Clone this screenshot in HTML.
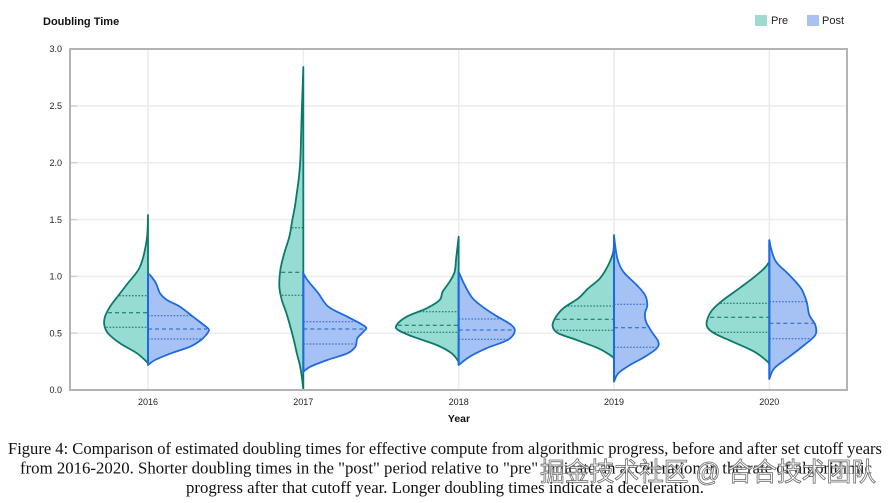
<!DOCTYPE html>
<html>
<head>
<meta charset="utf-8">
<style>
html,body{margin:0;padding:0;background:#fff;}
svg{display:block;}
</style>
</head>
<body>
<svg id="c" width="892" height="503" viewBox="0 0 892 503" xmlns="http://www.w3.org/2000/svg">
  <rect x="0" y="0" width="892" height="503" fill="#fff"/>
  <!-- grid -->
  <g stroke="#ececec" stroke-width="1.5">
    <line x1="71" y1="333.2" x2="846" y2="333.2"/>
    <line x1="71" y1="276.4" x2="846" y2="276.4"/>
    <line x1="71" y1="219.6" x2="846" y2="219.6"/>
    <line x1="71" y1="162.7" x2="846" y2="162.7"/>
    <line x1="71" y1="105.9" x2="846" y2="105.9"/>
    <line x1="148" y1="50" x2="148" y2="389"/>
    <line x1="303.3" y1="50" x2="303.3" y2="389"/>
    <line x1="458.7" y1="50" x2="458.7" y2="389"/>
    <line x1="614" y1="50" x2="614" y2="389"/>
    <line x1="769.3" y1="50" x2="769.3" y2="389"/>
  </g>
  <g stroke="#cfcfcf" stroke-width="1.5">
    <line x1="71" y1="333.2" x2="77" y2="333.2"/>
    <line x1="71" y1="276.4" x2="77" y2="276.4"/>
    <line x1="71" y1="219.6" x2="77" y2="219.6"/>
    <line x1="71" y1="162.7" x2="77" y2="162.7"/>
    <line x1="71" y1="105.9" x2="77" y2="105.9"/>
  </g>
  <g id="violins"></g>
  <!-- frame -->
  <rect x="70" y="49" width="777" height="341" fill="none" stroke="#b3b3b3" stroke-width="2"/>
  <!-- y tick labels -->
  <g font-family="Liberation Sans, Arial, sans-serif" font-size="9" fill="#222" text-anchor="end">
    <text x="62" y="393.2">0.0</text>
    <text x="62" y="336.4">0.5</text>
    <text x="62" y="279.6">1.0</text>
    <text x="62" y="222.8">1.5</text>
    <text x="62" y="165.9">2.0</text>
    <text x="62" y="109.1">2.5</text>
    <text x="62" y="52.2">3.0</text>
  </g>
  <!-- x tick labels -->
  <g font-family="Liberation Sans, Arial, sans-serif" font-size="9" fill="#222" text-anchor="middle">
    <text x="148" y="405">2016</text>
    <text x="303.3" y="405">2017</text>
    <text x="458.7" y="405">2018</text>
    <text x="614" y="405">2019</text>
    <text x="769.3" y="405">2020</text>
  </g>
  <text x="459" y="422" font-family="Liberation Sans, Arial, sans-serif" font-size="10.5" font-weight="bold" fill="#111" text-anchor="middle">Year</text>
  <!-- title -->
  <text x="43" y="25" font-family="Liberation Sans, Arial, sans-serif" font-size="11" font-weight="bold" fill="#111">Doubling Time</text>
  <!-- legend -->
  <rect x="755" y="15" width="12" height="11" fill="#9ddbd2"/>
  <text x="771" y="24" font-family="Liberation Sans, Arial, sans-serif" font-size="11" fill="#222">Pre</text>
  <rect x="807" y="15" width="12" height="11" fill="#a8c3f1"/>
  <text x="822" y="24" font-family="Liberation Sans, Arial, sans-serif" font-size="11" fill="#222">Post</text>
  <!-- caption -->
  <g font-family="Liberation Serif, Times New Roman, serif" font-size="16.5" fill="#111">
    <text x="8" y="454" textLength="874" lengthAdjust="spacingAndGlyphs">Figure 4: Comparison of estimated doubling times for effective compute from algorithmic progress, before and after set cutoff years</text>
    <text x="20" y="473.5" textLength="852" lengthAdjust="spacingAndGlyphs">from 2016-2020. Shorter doubling times in the "post" period relative to "pre" indicate an acceleration in the rate of algorithmic</text>
    <text x="186" y="493" textLength="518" lengthAdjust="spacingAndGlyphs">progress after that cutoff year. Longer doubling times indicate a deceleration.</text>
  </g>
  <!-- watermark -->
  <text x="540" y="481" textLength="336" lengthAdjust="spacingAndGlyphs" font-family="Liberation Sans, Noto Sans CJK SC, sans-serif" font-size="26" fill="#ffffff" fill-opacity="0.7" stroke="#6a6a6a" stroke-width="0.8">掘金技术社区 @ 合合技术团队</text>
</svg>
<script>
(function(){
  var NS="http://www.w3.org/2000/svg";
  var g=document.getElementById("violins");
  var data=[
    {pre:[[215,0],[240,1.3],[266.7,8],[283,20],[296,30],[306.7,38],[316.7,43],[325,43.7],[333.3,40],[343.3,28],[353.3,11],[363,0]],
     pq:[[295.7,0],[312.7,1],[327.3,0]],
     post:[[274,0],[275,2],[283.3,8],[293.3,12],[300,19],[306.7,32],[316.7,45],[326.7,58],[330,61],[335,58],[340,53],[346.7,42],[353.3,23],[360,7],[365,0]],
     oq:[[315.7,0],[329,1],[339,0]]},
    {pre:[[67,0],[90,0.8],[110,1.5],[135,2.2],[160,3],[178,4.5],[193,6.5],[207,8.5],[220,11],[236.7,14],[253,19],[270,23],[286.7,24],[300,21.5],[313,17],[326.7,13],[340,9.5],[353.3,6.5],[365,3.5],[376.7,1.5],[390,0]],
     pq:[[227.7,0],[272.3,1],[295.3,0]],
     post:[[273.3,0],[280,4],[293.3,15],[306.7,25],[316.7,44],[326.7,62],[331.7,60],[338.3,54],[346.7,52],[353.3,44],[360,24],[366.7,7],[371.7,0]],
     oq:[[321.7,0],[329,1],[344,0]]},
    {pre:[[236.7,0],[258.3,2.5],[271.7,4],[281.7,9],[291.7,16],[300,19],[308.3,32],[316.7,52],[325,62],[330,60.5],[336.7,45.7],[345,22],[353.3,7],[361.7,0]],
     pq:[[311.7,0],[325.3,1],[332.3,0]],
     post:[[271.7,0],[285,6],[298.3,14],[308.3,26],[316.7,39],[325,52.7],[331.7,56],[340,49],[348.3,27.7],[356.7,11],[365,0]],
     oq:[[319,0],[330,1],[339.3,0]]},
    {pre:[[235,0],[251.7,0.7],[265,5.7],[278.3,14],[288.3,25.7],[298.3,35.7],[308.3,50.7],[318.3,59],[326.7,61.3],[333.3,55.7],[340,37.3],[348.3,15.7],[355,4],[358.3,0]],
     pq:[[306,0],[319.3,1],[330.3,0]],
     post:[[236,0],[258.3,3.3],[271.7,9.3],[285,22.7],[295,31],[305,33.3],[313.3,31],[321.7,32],[331.7,37.7],[341.7,44.3],[348.3,42.7],[356.7,31],[365,16],[373.3,4.3],[381.7,0]],
     oq:[[304.3,0],[327.7,1],[347.3,0]]},
    {pre:[[261.7,0],[268.3,5],[278.3,16.7],[288.3,30],[301.7,48.3],[311.7,58.3],[325,62.7],[333.3,55],[341.7,36.7],[351.7,15],[361.7,1.7],[365,0]],
     pq:[[303.3,0],[317.3,1],[332.3,0]],
     post:[[240,0],[248.3,1.7],[261.7,6.7],[275,20],[288.3,31.7],[301.7,37.3],[315,40],[325,46],[335,46],[345,35],[356.7,20],[368.3,5],[379,0]],
     oq:[[301.7,0],[323.3,1],[338.7,0]]}
  ];
  function path(pts,cx,dir){
    var P=pts.map(function(p){return [cx+dir*p[1],p[0]];});
    var d="M"+P[0][0].toFixed(2)+","+P[0][1].toFixed(2);
    for(var i=0;i<P.length-1;i++){
      var p0=P[Math.max(i-1,0)],p1=P[i],p2=P[i+1],p3=P[Math.min(i+2,P.length-1)];
      var c1x=p1[0]+(p2[0]-p0[0])/6,c1y=p1[1]+(p2[1]-p0[1])/6;
      var c2x=p2[0]-(p3[0]-p1[0])/6,c2y=p2[1]-(p3[1]-p1[1])/6;
      d+=" C"+c1x.toFixed(2)+","+c1y.toFixed(2)+" "+c2x.toFixed(2)+","+c2y.toFixed(2)+" "+p2[0].toFixed(2)+","+p2[1].toFixed(2);
    }
    d+=" Z";
    return d;
  }
  function widthAt(pts,y){
    for(var i=0;i<pts.length-1;i++){
      if(y>=pts[i][0]&&y<=pts[i+1][0]){
        var t=(y-pts[i][0])/(pts[i+1][0]-pts[i][0]);
        return pts[i][1]+t*(pts[i+1][1]-pts[i][1]);
      }
    }
    return 0;
  }
  function el(name,attrs){
    var e=document.createElementNS(NS,name);
    for(var k in attrs)e.setAttribute(k,attrs[k]);
    g.appendChild(e);return e;
  }
  data.forEach(function(v,i){
    var cx=148+155.33*i;
    el("path",{d:path(v.pre,cx,-1),fill:"#96dcd2",stroke:"#0b7a6a","stroke-width":"1.8","stroke-linejoin":"round"});
    v.pq.forEach(function(q){
      var w=widthAt(v.pre,q[0]);
      el("line",{x1:cx-w+1,y1:q[0],x2:cx,y2:q[0],stroke:"#0b6b5e","stroke-width":"1","stroke-dasharray":q[1]?"4,3":"1.6,1.6"});
    });
    el("path",{d:path(v.post,cx,1),fill:"#a6c2f4",stroke:"#1f6ae0","stroke-width":"1.8","stroke-linejoin":"round"});
    v.oq.forEach(function(q){
      var w=widthAt(v.post,q[0]);
      el("line",{x1:cx,y1:q[0],x2:cx+w-1,y2:q[0],stroke:"#1f5fd0","stroke-width":"1","stroke-dasharray":q[1]?"4,3":"1.6,1.6"});
    });
    el("line",{x1:cx,y1:v.post[0][0],x2:cx,y2:v.post[v.post.length-1][0],stroke:"#1f6ae0","stroke-width":"2"});
  });
})();
</script>
</body>
</html>
